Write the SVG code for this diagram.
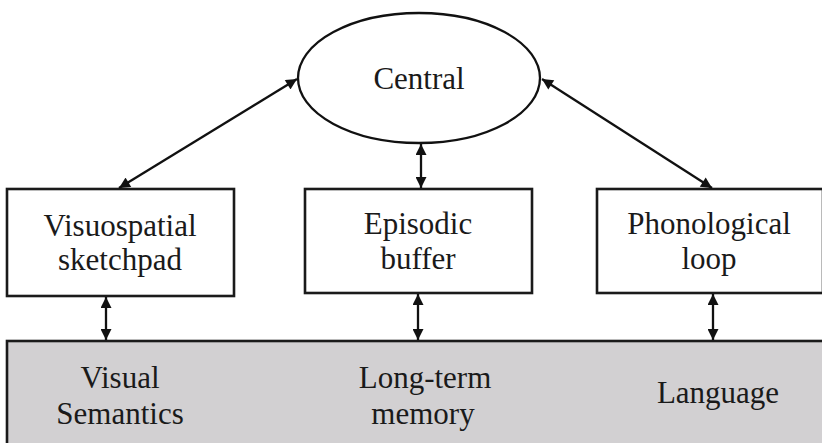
<svg xmlns="http://www.w3.org/2000/svg" width="822" height="443" viewBox="0 0 822 443">
  <style>
    .box { fill: #ffffff; stroke: #1a1a1a; stroke-width: 2.6; }
    .ltm { fill: #d2d0d2; stroke: #1a1a1a; stroke-width: 2.6; }
    .lbl { font-family: "Liberation Serif", "Times New Roman", serif; font-size: 31px; fill: #1a1a1a; text-anchor: middle; }
    .conn { stroke: #111111; stroke-width: 2.3; fill: none; marker-start: url(#ah); marker-end: url(#ah); }
  </style>
  <defs>
    <marker id="ah" viewBox="0 0 10 10" refX="10" refY="5" markerWidth="12" markerHeight="11" markerUnits="userSpaceOnUse" orient="auto-start-reverse">
      <path d="M0,0 L10,5 L0,10 Z" fill="#111111"/>
    </marker>
  </defs>
  <rect width="822" height="443" fill="#ffffff"/>

  <g id="long-term-memory">
    <rect class="ltm" x="7" y="341" width="830" height="120"/>
    <text class="lbl" x="120" y="388">Visual</text>
    <text class="lbl" x="120" y="424">Semantics</text>
    <text class="lbl" x="425" y="388">Long-term</text>
    <text class="lbl" x="423" y="424">memory</text>
    <text class="lbl" x="718" y="403">Language</text>
  </g>

  <g id="central">
    <ellipse cx="419" cy="78" rx="121" ry="65" fill="#ffffff" stroke="#111111" stroke-width="2.3"/>
    <text class="lbl" x="419" y="89">Central</text>
  </g>

  <g id="visuospatial">
    <rect class="box" x="7" y="189" width="227" height="107"/>
    <text class="lbl" x="120" y="236">Visuospatial</text>
    <text class="lbl" x="120" y="270">sketchpad</text>
  </g>

  <g id="episodic">
    <rect class="box" x="305" y="189" width="227" height="104"/>
    <text class="lbl" x="418" y="234">Episodic</text>
    <text class="lbl" x="418" y="269">buffer</text>
  </g>

  <g id="phonological">
    <rect class="box" x="597" y="189" width="226" height="104"/>
    <text class="lbl" x="709" y="234">Phonological</text>
    <text class="lbl" x="709" y="269">loop</text>
  </g>

  <g id="connectors">
    <line class="conn" x1="297" y1="79" x2="119" y2="188"/>
    <line class="conn" x1="542" y1="79" x2="712" y2="188"/>
    <line class="conn" x1="421" y1="144" x2="421" y2="188"/>
    <line class="conn" x1="106" y1="297" x2="106" y2="340"/>
    <line class="conn" x1="418" y1="294" x2="418" y2="340"/>
    <line class="conn" x1="713" y1="294" x2="713" y2="340"/>
  </g>
</svg>
